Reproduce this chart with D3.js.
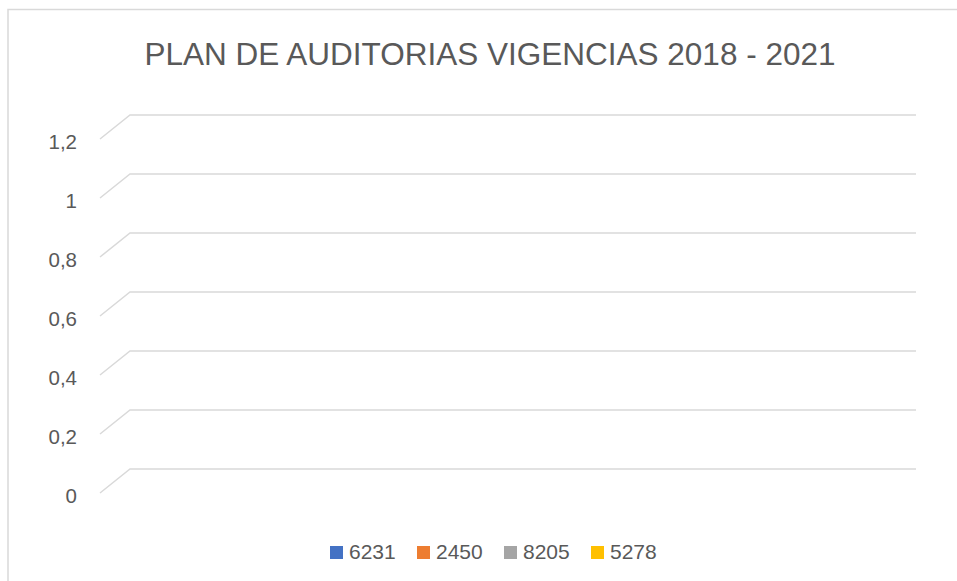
<!DOCTYPE html>
<html>
<head>
    <meta charset="utf-8" />
    <title>Plan de auditorias</title>
    <style>
        body { margin: 0; background: #fff; }
        text { font-family: "Liberation Sans", Arial, sans-serif; fill: #595959; }
    </style>
</head>
<body>
<script src="https://d3js.org/d3.v7.min.js"></script>
<script>
    // series shown in the legend (no values plotted in the source chart)
    var seriesNames = ["6231", "2450", "8205", "5278"];
    var seriesColors = ["#4472C4", "#ED7D31", "#A5A5A5", "#FFC000"];
    var categories = [];
    var seriesValues = [[], [], [], []];
    var yTicks = [0, 0.2, 0.4, 0.6, 0.8, 1, 1.2];
    var title = "PLAN DE AUDITORIAS VIGENCIAS 2018 - 2021";

    var width = 957, height = 581;
    var depthX = 30, depthY = 24;   // 3d floor offset
    var plotLeft = 100, plotRight = 916;

    var svg = d3.select("body").append("svg")
        .attr("width", width)
        .attr("height", height);

    // chart area border
    svg.append("rect")
        .attr("x", 8).attr("y", 9.5)
        .attr("width", 980).attr("height", 600)
        .attr("fill", "none")
        .attr("stroke", "#d9d9d9")
        .attr("stroke-width", 1.5);

    svg.append("text")
        .attr("x", 490).attr("y", 65)
        .attr("text-anchor", "middle")
        .style("font-size", "31.5px")
        .text(title);

    var y = d3.scaleLinear().domain([0, 1.2]).range([469, 115]);
    var x = d3.scaleBand().domain(categories).range([plotLeft + depthX, plotRight]).padding(0.3);

    var fmt = function(d) { return d3.format("~g")(d).replace(".", ","); };

    var grid = svg.append("g")
        .attr("stroke", "#d9d9d9")
        .attr("stroke-width", 1.5)
        .attr("fill", "none");

    grid.selectAll("path")
        .data(yTicks)
        .enter().append("path")
        .attr("d", d => "M" + plotLeft + "," + (y(d) + depthY) +
                        "L" + (plotLeft + depthX) + "," + y(d) +
                        "L" + plotRight + "," + y(d));

    svg.append("g").selectAll("text")
        .data(yTicks)
        .enter().append("text")
        .attr("x", 77)
        .attr("y", d => y(d) + depthY + 10)
        .attr("text-anchor", "end")
        .style("font-size", "20.5px")
        .text(fmt);

    // bars (none in the source)
    var bars = svg.append("g");
    seriesValues.forEach(function(vals, i) {
        bars.selectAll(null)
            .data(vals)
            .enter().append("rect")
            .attr("x", (d, j) => x(categories[j]) + i * x.bandwidth() / seriesNames.length)
            .attr("width", x.bandwidth() / seriesNames.length)
            .attr("y", d => y(d))
            .attr("height", d => y(0) - y(d))
            .attr("fill", seriesColors[i]);
    });

    // legend
    var legend = svg.append("g").selectAll("g")
        .data(seriesNames)
        .enter().append("g")
        .attr("transform", (d, i) => "translate(" + (330 + i * 87) + ",546)");

    legend.append("rect")
        .attr("width", 13).attr("height", 13)
        .attr("fill", (d, i) => seriesColors[i]);

    legend.append("text")
        .attr("x", 19).attr("y", 13)
        .style("font-size", "21px")
        .text(d => d);
</script>
</body>
</html>
